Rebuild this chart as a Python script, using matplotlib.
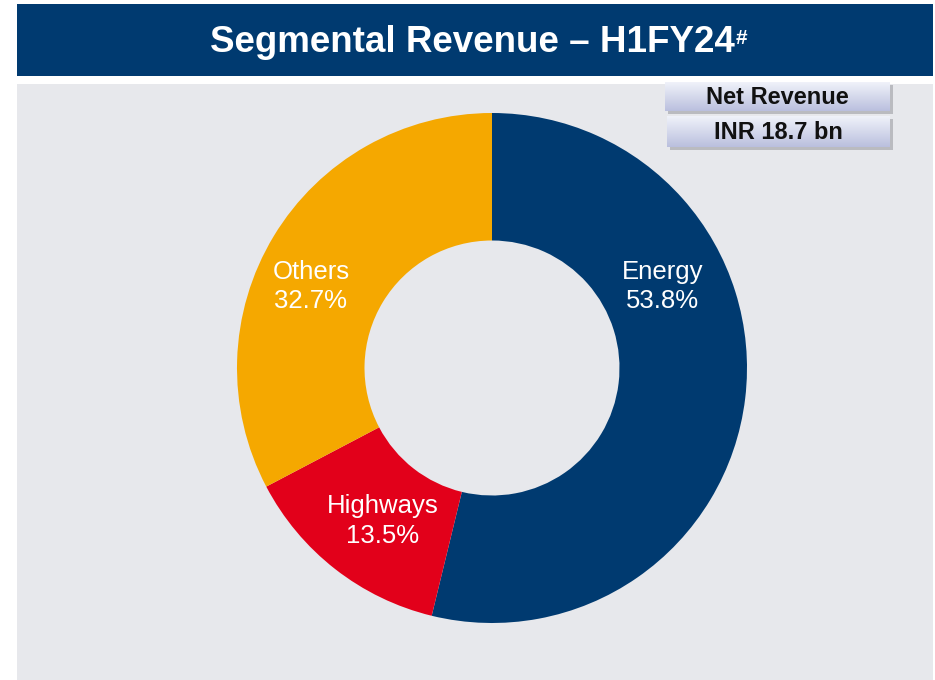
import numpy as np
import matplotlib.pyplot as plt
from matplotlib.patches import Rectangle

plt.rcParams['font.family'] = ['Liberation Sans', 'DejaVu Sans']

# data
segments = ["Energy", "Highways", "Others"]
shares = [53.8, 13.5, 32.7]
colors = ["#003A70", "#E2001A", "#F5A800"]
title = "Segmental Revenue \u2013 H1FY24"
title_mark = "#"
box_lines = ["Net Revenue", "INR 18.7 bn"]

# label spots (pie units), placed by hand like the slide
label_pos = {"Energy": (0.67, 0.32), "Highways": (-0.43, -0.60), "Others": (-0.71, 0.32)}

W, H = 935, 680
fig = plt.figure(figsize=(W / 100, H / 100), dpi=100)
fig.patch.set_facecolor("white")

# background layer in pixel coords
bg = fig.add_axes([0, 0, 1, 1])
bg.set_xlim(0, W)
bg.set_ylim(H, 0)
bg.axis("off")

bg.add_patch(Rectangle((17, 4), 916, 72, facecolor="#003A70", edgecolor="none"))
bg.add_patch(Rectangle((17, 84), 916, 600, facecolor="#E7E8EC", edgecolor="none"))
t = bg.text(472, 43, title, color="white", fontsize=26.5, fontweight="bold",
            ha="center", va="center")

# the two little boxes with a gradient and a shadow
grad = np.linspace(0, 1, 64).reshape(-1, 1)
top_c = np.array([0.94, 0.95, 0.98])
bot_c = np.array([0.73, 0.75, 0.87])
img = top_c + (bot_c - top_c) * grad[..., None]
img = img.reshape(64, 1, 3)
boxes = [(665, 82, 225, 29), (667, 116, 223, 31)]
for (x, y, w, h), txt in zip(boxes, box_lines):
    bg.add_patch(Rectangle((x + 3, y + 3), w, h, facecolor="#8E8F96", alpha=0.5, edgecolor="none"))
    bg.imshow(img, extent=(x, x + w, y + h, y), aspect="auto", zorder=2)
    bg.text(x + w / 2, y + h / 2 + 1, txt, fontsize=17, fontweight="bold",
            color="#111111", ha="center", va="center", zorder=3)
bg.set_xlim(0, W)
bg.set_ylim(H, 0)

# superscript mark right after the title
fig.canvas.draw()
ext = t.get_window_extent()
sx = ext.x1 + 1
bg.text(sx, H - ext.y1 + 3, title_mark, color="white", fontsize=15, fontweight="bold",
        ha="left", va="top", transform=bg.transData)

# donut
cx, cy, r = 492, 368, 255
ax = fig.add_axes([(cx - r) / W, (H - cy - r) / H, 2 * r / W, 2 * r / H])
ax.pie(shares, colors=colors, startangle=90, counterclock=False,
       radius=1, wedgeprops=dict(width=0.5, edgecolor="none"))
ax.set_xlim(-1, 1)
ax.set_ylim(-1, 1)
ax.set_aspect("equal")
ax.axis("off")

for name, val in zip(segments, shares):
    x, y = label_pos[name]
    ax.text(x, y, f"{name}\n{val:.1f}%", color="white", fontsize=18.5,
            ha="center", va="center", linespacing=1.3)

fig.savefig("out.png", dpi=100, facecolor="white")
